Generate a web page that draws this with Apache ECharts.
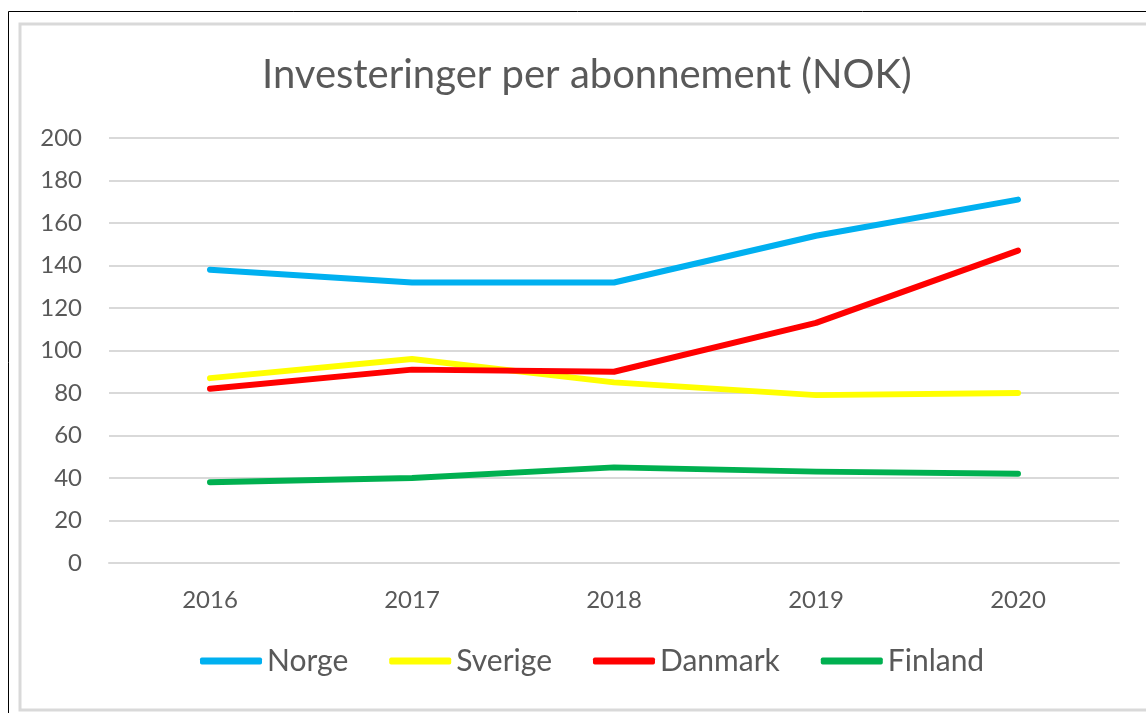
<!DOCTYPE html>
<html>
<head>
<meta charset="utf-8">
<script src="https://cdn.jsdelivr.net/npm/echarts@6/dist/echarts.min.js"></script>
<style>
  html, body { margin: 0; padding: 0; background: #fff; }
  #chart { width: 1146px; height: 713px; }
</style>
</head>
<body>
<div id="chart"></div>
<script>
// data
var years = ['2016', '2017', '2018', '2019', '2020']
var norge = [138, 132, 132, 154, 171]
var sverige = [87, 96, 85, 79, 80]
var danmark = [82, 91, 90, 113, 147]
var finland = [38, 40, 45, 43, 42]
var yTicks = [0, 20, 40, 60, 80, 100, 120, 140, 160, 180, 200]

var font = 'Lato'
var textColor = '#595959'

function line(name, data, color) {
    return {
        name: name,
        type: 'line',
        data: data,
        symbol: 'none',
        lineStyle: { color: color, width: 6, cap: 'round', join: 'round' },
        itemStyle: { color: color }
    }
}

var chart = echarts.init(document.getElementById('chart'))
var option = {
    animation: false,
    backgroundColor: '#fff',
    graphic: [
        // outer frame
        { type: 'rect', shape: { x: 8.5, y: 11.5, width: 1200, height: 800 },
          style: { fill: 'none', stroke: '#000', lineWidth: 1 }, silent: true },
        // chart area border
        { type: 'rect', shape: { x: 20, y: 24, width: 1200, height: 686 },
          style: { fill: 'none', stroke: '#d9d9d9', lineWidth: 3 }, silent: true }
    ],
    // the original chart is cut off on the right, so title and legend sit right of centre
    title: {
        text: 'Investeringer per abonnement (NOK)',
        left: 257,
        top: 50,
        textStyle: { fontFamily: font, fontSize: 40, fontWeight: 'normal', color: textColor }
    },
    legend: {
        data: ['Norge', 'Sverige', 'Danmark', 'Finland'],
        left: 195,
        top: 641,
        icon: 'roundRect',
        itemWidth: 62,
        itemHeight: 7,
        itemGap: 41,
        textStyle: { fontFamily: font, fontSize: 30, color: textColor }
    },
    grid: { left: 109, right: 27, top: 138, bottom: 150 },
    xAxis: {
        type: 'category',
        boundaryGap: true,
        data: years,
        axisLine: { show: true, lineStyle: { color: '#d9d9d9', width: 2 } },
        axisTick: { show: false },
        axisLabel: { margin: 25, fontFamily: font, fontSize: 24, color: textColor }
    },
    yAxis: {
        type: 'value',
        min: yTicks[0],
        max: yTicks[yTicks.length - 1],
        interval: 20,
        axisLine: { show: false },
        axisTick: { show: false },
        splitLine: { lineStyle: { color: '#d9d9d9', width: 2 } },
        axisLabel: { margin: 27, fontFamily: font, fontSize: 24, color: textColor }
    },
    series: [
        line('Norge', norge, '#00b0f0'),
        line('Sverige', sverige, '#ffff00'),
        line('Danmark', danmark, '#ff0000'),
        line('Finland', finland, '#00b050')
    ]
}
chart.setOption(option)
</script>
</body>
</html>
